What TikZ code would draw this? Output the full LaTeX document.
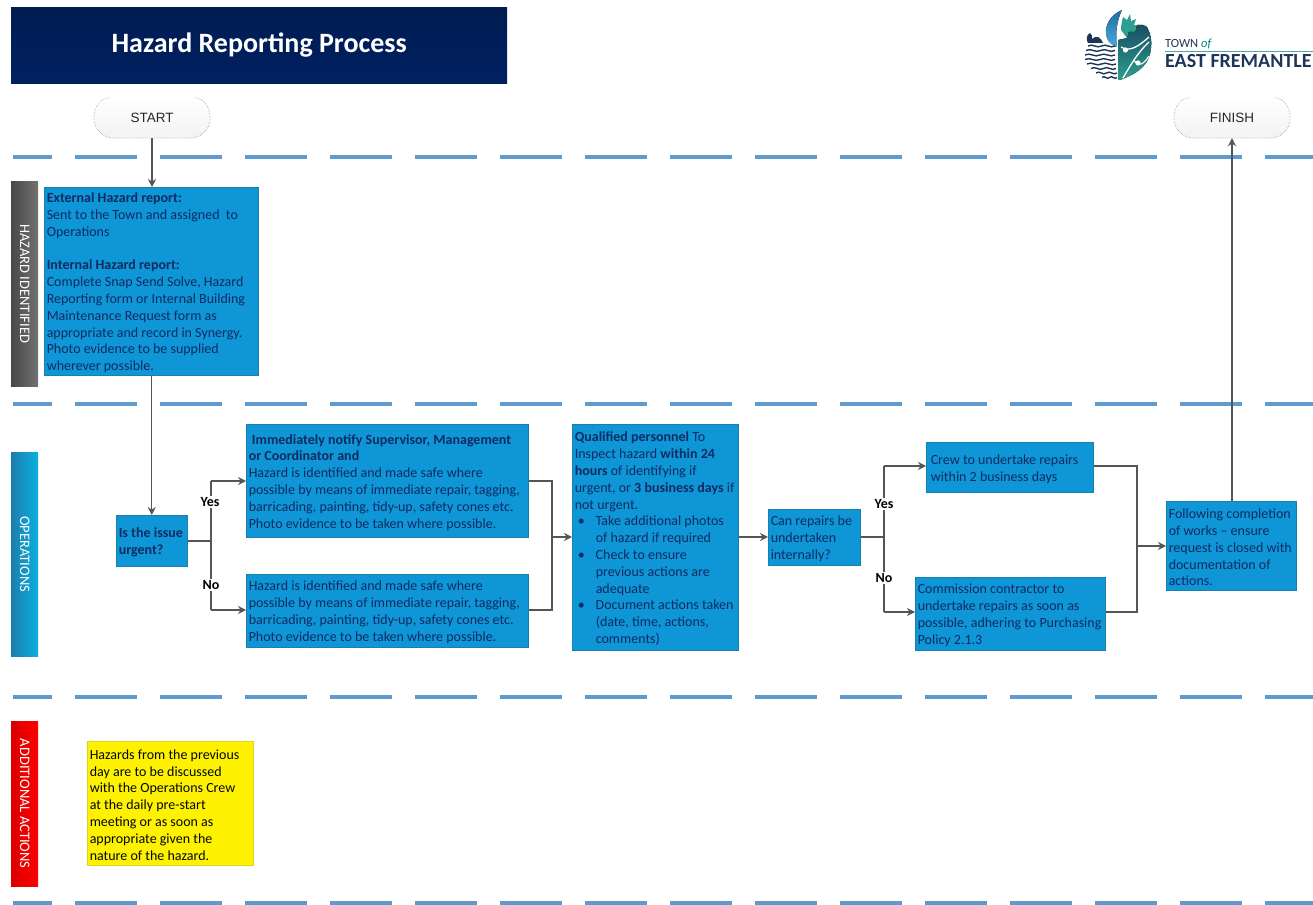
\documentclass[tikz,border=0pt]{standalone}
\usepackage{fontspec}
\setmainfont{Carlito}
\newfontfamily\arialf{Liberation Sans}
\usetikzlibrary{arrows.meta,calc}
\definecolor{boxblue}{HTML}{0E96D6}
\definecolor{boxedge}{HTML}{1B7FAE}
\definecolor{boxtext}{HTML}{0E2B62}
\definecolor{navy}{HTML}{002060}
\definecolor{navyb}{HTML}{001C52}
\definecolor{lanedash}{HTML}{5F9BCF}
\definecolor{conn}{HTML}{555555}
\definecolor{logonavy}{HTML}{1D3557}
\definecolor{logotealA}{HTML}{174F63}
\definecolor{logotealB}{HTML}{2E9E8E}
\definecolor{logoskyA}{HTML}{1E6FA5}
\definecolor{logoskyB}{HTML}{4AA8D8}
\tikzset{
  flowbox/.style={rectangle,fill=boxblue,draw=boxedge,line width=.5pt,text=boxtext,inner xsep=2.5pt,inner ysep=0pt,align=flush left,anchor=north west,font=\fontsize{14}{16.8}\selectfont,execute at begin node={\rule{0pt}{13pt}}},
  notebox/.style={flowbox,fill=yellow,draw=yellow!85!black,text=black!85!boxtext},
  lanebar/.style={rectangle,anchor=north west,minimum width=27pt,inner sep=0pt},
  lanetext/.style={rotate=-90,text=white,font=\fontsize{14.5}{16}\selectfont},
  terminator/.style={rectangle,rounded corners=19pt,minimum width=116pt,minimum height=40pt,inner sep=0pt,top color=white,bottom color=black!5,font=\arialf\fontsize{13.5}{15}\selectfont,text=black!85},
  termedge/.style={draw=black!50,line width=.5pt,densely dotted},
  sep/.style={draw=lanedash,line width=3.6pt,dash pattern=on 62pt off 23pt,dash phase=23pt},
  flow/.style={draw=conn,line width=1.2pt},
  flowarrow/.style={flow,-{Stealth[length=8pt,width=8pt]}},
  branchlabel/.style={fill=white,inner xsep=1pt,inner ysep=1.5pt,text=black,font=\bfseries\fontsize{14}{16}\selectfont},
  wave/.style={draw=logonavy,line width=1.4pt}
}
\begin{document}
\begin{tikzpicture}[x=1pt,y=-1pt]
\useasboundingbox (0,0) rectangle (1313,904);

% title
\node[rectangle,anchor=north west,minimum width=496pt,minimum height=76pt,inner sep=0pt,top color=navyb,bottom color=navy,text=white,font=\bfseries\fontsize{28}{32}\selectfont] (title) at (11,7) {Hazard Reporting Process};

% separators
\coordinate (sepAl) at (13,157); \coordinate (sepAr) at (1313,157);
\coordinate (sepBl) at (13,404); \coordinate (sepBr) at (1313,404);
\coordinate (sepCl) at (13,697); \coordinate (sepCr) at (1313,697);
\coordinate (sepDl) at (13,903); \coordinate (sepDr) at (1313,903);
\draw[sep] (sepAl) -- (sepAr);
\draw[sep] (sepBl) -- (sepBr);
\draw[sep] (sepCl) -- (sepCr);
\draw[sep] (sepDl) -- (sepDr);

% lanes
\node[lanebar,minimum height=205pt,left color=black!72,right color=black!55] (laneH) at (11,181) {};
\node[lanetext] (laneHt) at (laneH.center) {HAZARD IDENTIFIED};
\node[lanebar,minimum height=204pt,left color=boxedge,right color=boxblue!75!cyan] (laneO) at (11,452) {};
\node[lanetext] (laneOt) at (laneO.center) {OPERATIONS};
\node[lanebar,minimum height=165pt,left color=red!85!black,right color=red] (laneA) at (11,721) {};
\node[lanetext] (laneAt) at (laneA.center) {ADDITIONAL ACTIONS};

% terminators
\node[terminator] (start) at (152,118) {START};
\node[terminator] (finish) at (1232,118) {FINISH};
\foreach \t in {start,finish}{
  \draw[termedge] ([xshift=16pt]\t.north west) to[out=180,in=90] (\t.west) to[out=270,in=180] ([xshift=20pt]\t.south west) -- ([xshift=-20pt]\t.south east) to[out=0,in=270] (\t.east) to[out=90,in=0] ([xshift=-16pt]\t.north east);
}

% boxes
\node[flowbox,minimum width=214pt,minimum height=188pt,text width=209pt] (ext) at (44,187) {\textbf{External Hazard report:}\\Sent to the Town and assigned\ \ to\\Operations\\[16.8pt]\textbf{Internal Hazard report:}\\Complete Snap Send Solve, Hazard\\Reporting form or Internal Building\\Maintenance Request form as\\appropriate and record in Synergy.\\Photo evidence to be supplied\\wherever possible.};
\node[flowbox,minimum width=71pt,minimum height=51pt,text width=66pt] (urgent) at (116,515) {\textbf{Is the issue}\\\textbf{urgent?}};
\node[flowbox,minimum width=282pt,minimum height=113pt,text width=277pt] (notify) at (246,424) {\ \textbf{Immediately notify Supervisor, Management}\\\textbf{or Coordinator and}\\Hazard is identified and made safe where\\possible by means of immediate repair, tagging,\\barricading, painting, tidy-up, safety cones etc.\\Photo evidence to be taken where possible.};
\node[flowbox,minimum width=282pt,minimum height=73pt,text width=277pt] (safe) at (246,574) {Hazard is identified and made safe where\\possible by means of immediate repair, tagging,\\barricading, painting, tidy-up, safety cones etc.\\Photo evidence to be taken where possible.};
\node[flowbox,minimum width=166pt,minimum height=226pt,text width=161pt] (qual) at (572,424) {\textbf{Qualified personnel} To\\Inspect hazard \textbf{within 24}\\\textbf{hours} of identifying if\\urgent, or \textbf{3 business days} if\\not urgent.\\\makebox[21pt][l]{\ \textbullet}Take additional photos\\\hspace*{21pt}of hazard if required\\\makebox[21pt][l]{\ \textbullet}Check to ensure\\\hspace*{21pt}previous actions are\\\hspace*{21pt}adequate\\\makebox[21pt][l]{\ \textbullet}Document actions taken\\\hspace*{21pt}(date, time, actions,\\\hspace*{21pt}comments)};
\node[flowbox,minimum width=92pt,minimum height=56pt,text width=87pt] (can) at (768,509) {Can repairs be\\undertaken\\internally?};
\node[flowbox,minimum width=167pt,minimum height=50pt,text width=160pt] (crew) at (926,442) {\hspace*{1pt}Crew to undertake repairs\\\hspace*{1pt}within 2 business days};
\node[flowbox,minimum width=190pt,minimum height=73pt,text width=185pt] (comm) at (915,577) {Commission contractor to\\undertake repairs as soon as\\possible, adhering to Purchasing\\Policy 2.1.3};
\node[flowbox,minimum width=130pt,minimum height=89pt,text width=125pt] (follow) at (1166,501) {Following completion\\of works -- ensure\\request is closed with\\documentation of\\actions.};
\node[notebox,minimum width=166pt,minimum height=124pt,text width=161pt] (note) at (87,741) {Hazards from the previous\\day are to be discussed\\with the Operations Crew\\at the daily pre-start\\meeting or as soon as\\appropriate given the\\nature of the hazard.};

% junctions
\coordinate (jU) at (211,541);
\coordinate (jUy) at (211,481);
\coordinate (jUn) at (211,610);
\coordinate (mR) at (552,537);
\coordinate (mRy) at (552,481);
\coordinate (mRn) at (552,610);
\coordinate (jC) at (884,537);
\coordinate (jCy) at (884,466);
\coordinate (jCn) at (884,612);
\coordinate (mF) at (1137,546);
\coordinate (mFy) at (1137,466);
\coordinate (mFn) at (1137,612);

% connectors
\draw[flowarrow] (start.south) -- (start.south |- ext.north);
\draw[flowarrow] (ext.south -| urgent.north) -- (urgent.north);
\draw[flow] (urgent.east |- jU) -- (jU);
\draw[flow] (jUy) -- (jUn);
\draw[flowarrow] (jUy) -- (jUy -| notify.west);
\draw[flowarrow] (jUn) -- (jUn -| safe.west);
\draw[flow] (mRy -| notify.east) -- (mRy) -- (mRn) -- (mRn -| safe.east);
\draw[flowarrow] (mR) -- (mR -| qual.west);
\draw[flowarrow] (qual.east |- jC) -- (jC -| can.west);
\draw[flow] (can.east |- jC) -- (jC);
\draw[flow] (jCy) -- (jCn);
\draw[flowarrow] (jCy) -- (jCy -| crew.west);
\draw[flowarrow] (jCn) -- (jCn -| comm.west);
\draw[flow] (mFy -| crew.east) -- (mFy) -- (mFn) -- (mFn -| comm.east);
\draw[flowarrow] (mF) -- (mF -| follow.west);
\draw[flowarrow] (finish.south |- follow.north) -- (finish.south);

% branch labels
\node[branchlabel] (lyes1) at (210,502) {Yes};
\node[branchlabel] (lno1) at (211,585) {No};
\node[branchlabel] (lyes2) at (884,504) {Yes};
\node[branchlabel] (lno2) at (884,578) {No};

% logo
\fill[top color=logoskyA,bottom color=logoskyB] (1122,10) .. controls (1110,15) and (1103,27) .. (1107,38) .. controls (1109,43) and (1113,46) .. (1117,47) .. controls (1115,33) and (1117,20) .. (1122,10) -- cycle;
\fill[logotealB] (1123,17) -- (1127,20) -- (1130,14) -- (1131,21) -- (1136,19) -- (1134,25) -- (1140,26) -- (1135,29) -- (1137,34) -- (1131,33) -- (1127,38) -- (1121,30) .. controls (1121,25) and (1122,21) .. (1123,17) -- cycle;
\fill[top color=logotealA,bottom color=logotealB] (1118,47) -- (1118,40) -- (1127,38) -- (1129,32) -- (1135,32) -- (1137,25) -- (1143,25) -- (1147,27) .. controls (1151,35) and (1152,42) .. (1151,48) .. controls (1150,62) and (1142,72) .. (1120,80) -- (1118,80) -- cycle;
\draw[white,line width=1.3pt] (1121,47) .. controls (1130,53) and (1140,45) .. (1149,37);
\fill[white] (1125.5,50) circle (2.6pt);
\draw[white,line width=1.3pt] (1123,78) .. controls (1130,66) and (1138,52) .. (1149,42);
\fill[white] (1138,63) circle (2.6pt);
\draw[white,line width=1.1pt] (1134,60) .. controls (1138,68) and (1144,64) .. (1149,56);
\fill[logonavy] (1090,33) .. controls (1086,35) and (1086,40) .. (1088,43) -- (1103,43) .. controls (1101,37) and (1096,35) .. (1092,39) .. controls (1092,36) and (1092,34) .. (1090,33) -- cycle;
\foreach \yy/\xa/\xb in {46/1088/1115,50.5/1086/1115,55/1085/1115,59.5/1085/1115,64/1087/1116,68.5/1091/1116,73/1096/1117,77.5/1102/1117}{
  \draw[wave] (\xa,\yy) .. controls ({\xa+(\xb-\xa)*.17},\yy-3) and ({\xa+(\xb-\xa)*.33},\yy+3) .. ({\xa+(\xb-\xa)*.5},\yy) .. controls ({\xa+(\xb-\xa)*.67},\yy-3) and ({\xa+(\xb-\xa)*.83},\yy+3) .. (\xb,\yy);
}
\node[anchor=base west,inner sep=0pt,text=logonavy,font=\fontsize{12.5}{14}\selectfont] (logotown) at (1165,48) {TOWN {\color{teal}\itshape of}};
\node[anchor=base west,inner sep=0pt,text=logonavy,font=\bfseries\fontsize{20}{22}\selectfont] (logoeast) at (1165,68) {EAST FREMANTLE};
\coordinate (logorule) at (1313,51.5);
\draw[teal!70,line width=.7pt] (logotown.south west |- logorule) -- (logorule);
\end{tikzpicture}
\end{document}
